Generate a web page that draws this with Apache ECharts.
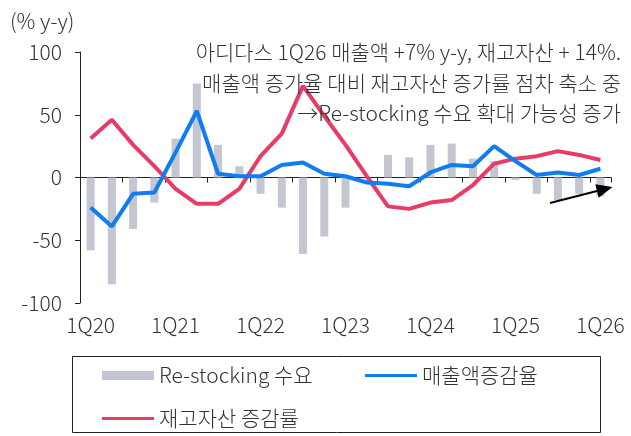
<!DOCTYPE html>
<html>
<head>
<meta charset="utf-8">
<script src="https://cdn.jsdelivr.net/npm/echarts@6/dist/echarts.min.js"></script>
<style>
  html, body { margin: 0; padding: 0; background: #fff; }
  #chart { width: 631px; height: 436px; }
</style>
</head>
<body>
<div id="chart"></div>
<script>
var categories = ['1Q20', '2Q20', '3Q20', '4Q20', '1Q21', '2Q21', '3Q21', '4Q21',
  '1Q22', '2Q22', '3Q22', '4Q22', '1Q23', '2Q23', '3Q23', '4Q23',
  '1Q24', '2Q24', '3Q24', '4Q24', '1Q25', '2Q25', '3Q25', '4Q25', '1Q26'];
var restocking = [-58, -85, -41, -20, 31, 75, 26, 9, -13, -24, -61, -47, -24, 0, 18, 16, 26, 27, 15, 13, -2, -13, -18, -13, -15];
var salesGrowth = [-24, -39, -13, -12, 20, 53, 3, 1, 1, 10, 12, 3, 1, -4, -5, -7, 4, 10, 9, 25, 13, 2, 4, 2, 7];
var inventoryGrowth = [31, 46, 26, 9, -9, -21, -21, -9, 17, 35, 73, 49, 26, 1, -23, -25, -20, -18, -6, 11, 15, 17, 21, 18, 14];
var yTicks = [-100, -50, 0, 50, 100];
var notes = [
  '아디다스 1Q26 매출액 +7% y-y, 재고자산 + 14%.',
  '매출액 증가율 대비 재고자산 증가률 점차 축소 중',
  '→Re-stocking 수요 확대 가능성 증가'
];

var FONT = '"Noto Sans CJK KR", "Noto Sans", sans-serif';
var TXT = '#333';
var GRAY = '#C4C6D1', BLUE = '#0F7CF2', RED = '#E83C66';

var dom = document.getElementById('chart');
var myChart = echarts.init(dom, null, { renderer: 'canvas' });
var option;

// legend look: one small legend per item, frame drawn as a graphic rect
function legendItem(name, left, top, h) {
  return {
    left: left,
    top: top,
    padding: 0,
    itemWidth: 52,
    itemHeight: h,
    icon: 'rect',
    textStyle: { fontFamily: FONT, fontSize: 21, fontWeight: 300, color: TXT },
    data: [name]
  };
}

function noteText(str, top) {
  return {
    type: 'text',
    right: 10,
    top: top,
    style: { text: str, font: '300 21px ' + FONT, fill: TXT },
    z: 10
  };
}

option = {
  animation: false,
  textStyle: { fontFamily: FONT },
  title: {
    text: '(% y-y)',
    left: 5,
    top: 6,
    textStyle: { fontFamily: FONT, fontSize: 21, fontWeight: 300, color: TXT }
  },
  grid: { left: 80, right: 20, top: 52, bottom: 133 },
  legend: [
    legendItem('Re-stocking 수요', 102, 365, 9),
    legendItem('매출액증감율', 365, 365, 3),
    legendItem('재고자산 증감률', 102, 408, 3)
  ],
  xAxis: [
    {
      type: 'category',
      data: categories,
      axisLine: { onZero: true, lineStyle: { color: '#222', width: 1 } },
      axisTick: { show: true, length: 5, lineStyle: { color: '#222' } },
      axisLabel: { show: false }
    },
    {
      type: 'category',
      data: categories,
      position: 'bottom',
      axisLine: { show: false, onZero: false },
      axisTick: { show: false },
      axisLabel: {
        interval: 3,
        margin: 12,
        fontFamily: FONT,
        fontSize: 21,
        fontWeight: 300,
        color: TXT
      }
    }
  ],
  yAxis: {
    type: 'value',
    min: yTicks[0],
    max: yTicks[yTicks.length - 1],
    interval: 50,
    splitLine: { show: false },
    axisLine: { show: true, lineStyle: { color: '#222' } },
    axisTick: { show: true, length: 5, lineStyle: { color: '#222' } },
    axisLabel: { margin: 18, fontFamily: FONT, fontSize: 21, fontWeight: 300, color: TXT }
  },
  series: [
    {
      name: 'Re-stocking 수요',
      type: 'bar',
      data: restocking,
      barWidth: 8,
      itemStyle: { color: GRAY },
      z: 1
    },
    {
      name: '매출액증감율',
      type: 'line',
      data: salesGrowth,
      symbol: 'none',
      lineStyle: { color: BLUE, width: 4 },
      itemStyle: { color: BLUE },
      z: 3
    },
    {
      name: '재고자산 증감률',
      type: 'line',
      data: inventoryGrowth,
      symbol: 'none',
      lineStyle: { color: RED, width: 4 },
      itemStyle: { color: RED },
      z: 2
    }
  ],
  graphic: [
    noteText(notes[0], 42),
    noteText(notes[1], 73),
    noteText(notes[2], 103),
    {
      type: 'rect',
      shape: { x: 72.5, y: 356.5, width: 528, height: 76 },
      style: { fill: 'none', stroke: '#222', lineWidth: 1 },
      z: 0
    },
    {
      type: 'line',
      shape: { x1: 550, y1: 203, x2: 597, y2: 191 },
      style: { stroke: '#000', lineWidth: 2 },
      z: 10
    },
    {
      type: 'polygon',
      shape: { points: [[612.5, 187], [598.7, 197.8], [595.3, 184.2]] },
      style: { fill: '#000' },
      z: 10
    }
  ]
};

if (option && typeof option === 'object') {
  myChart.setOption(option);
}

window.addEventListener('resize', myChart.resize);
</script>
</body>
</html>
